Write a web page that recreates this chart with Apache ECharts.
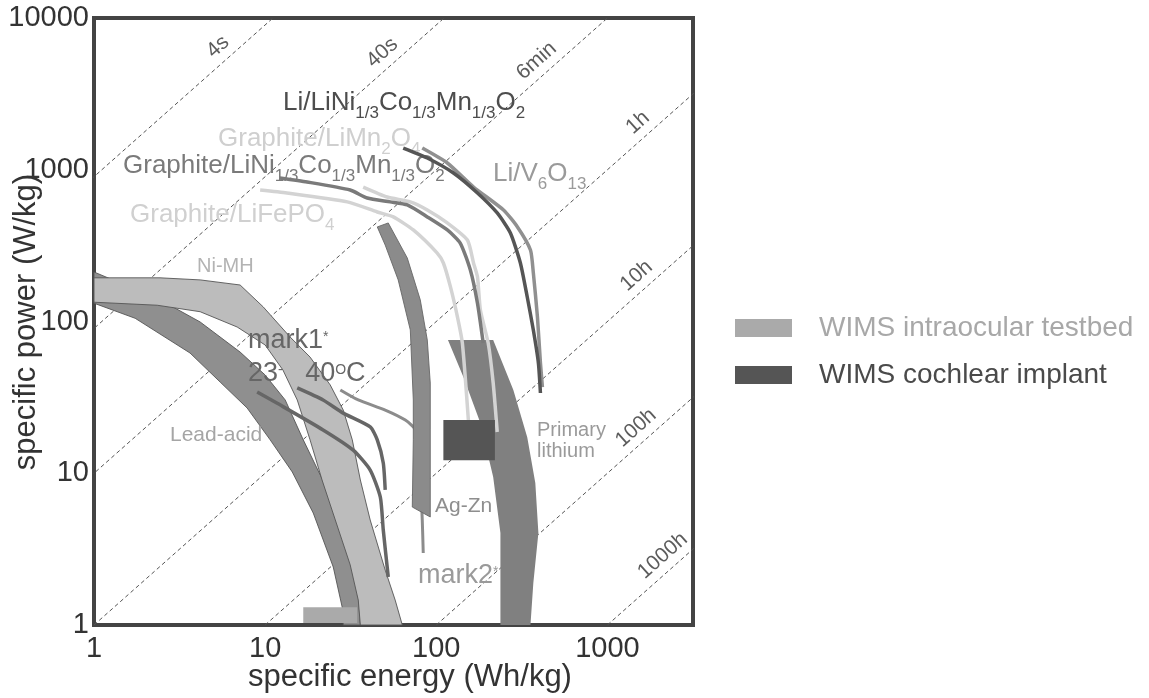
<!DOCTYPE html>
<html><head><meta charset="utf-8">
<script src="https://cdn.jsdelivr.net/npm/echarts@6/dist/echarts.min.js"></script>
<style>html,body{margin:0;padding:0;background:#fff}#c{width:1149px;height:698px}</style>
</head><body><div id="c"></div>
<script>
// ---------- data (specific energy Wh/kg, specific power W/kg) ----------
const xTicks = [1, 10, 100, 1000];
const yTicks = [1, 10, 100, 1000, 10000];
const timeHours = [4/3600, 40/3600, 0.1, 1, 10, 100, 1000];
const timeLabels = ['4s', '40s', '6min', '1h', '10h', '100h', '1000h'];
const timeLabelPower = [5446, 4977, 4406, 1721, 169, 16.8, 2.41];

const leadAcid = [[1,212],[2.43,139],[4.17,99.3],[7.14,62.9],[10.0,44.4],[13.1,30.4],[16.7,16.6],[22.4,8.37],[29.4,3.92],[34.5,1.98],[36.0,1],
  [28.6,1],[28.2,1.31],[25.0,2.41],[19.1,5.47],[14.4,10.2],[10.7,16.6],[7.85,26.9],[5.46,39.9],[3.64,62.0],[1.74,105],[1,132]];
const niMH = [[1,194],[2.43,194],[4.17,188],[7.14,174],[9.73,125],[14.0,79.0],[18.3,58.3],[24.0,38.2],[28.6,26.1],[32.3,16.6],[36.0,9.03],[41.1,4.92],[50.3,2.30],[57.5,1.46],[63.3,1],
  [36.0,1],[35.0,1.46],[31.4,2.49],[25.7,4.92],[21.5,9.03],[18.3,16.6],[15.4,30.4],[12.7,47.9],[10.0,70.0],[6.86,92.0],[4.17,116],[2.34,128],[1,134]];
const agZn = [[45.2,420],[52.4,446],[67.7,262],[80.6,139],[88.6,75.5],[92.2,39.3],[92.2,19.3],[92.2,5.15],[72.4,5.99],[73.4,16.6],[73.4,30.4],[70.5,87.9],[59.9,188],[50.3,319]];
const primaryLithium = [[117,75.5],[215,75.5],[282,35.4],[340,17.3],[379,8.62],[395,4.04],[369,1.89],[355,1],[237,1],[237,1.89],[237,4.04],[215,9.44],[181,21.4],[144,43.1]];
const intraocularBox = [[16.7,1.03],[34.5,1.31]];
const cochlearBox = [[110,12.2],[220,22.4]];

const mark1At23 = [[8.98,34.3],[11.7,29.0],[21.8,19.3],[32.7,14.2],[41.1,10.5],[47.1,6.97],[49.0,4.23],[52.4,2.07]];
const mark1At40 = [[15.4,36.5],[21.8,30.4],[28.6,24.9],[41.1,20.2],[45.2,16.6],[49.0,11.7],[50.3,7.76]];
const mark2 = [[27.5,35.4],[35.0,30.4],[50.3,26.1],[65.9,22.4],[75.4,19.3],[80.6,9.03],[82.8,4.92],[83.9,2.98]];
const graphiteNCM = [[12.2,882],[17.6,830],[31.4,735],[39.5,651],[53.8,614],[67.7,586],[88.6,489],[116,401],[138,329],[158,219],[174,132],[188,72.1]];
const graphiteLMO = [[37.4,769],[51.7,661],[70.5,614],[88.6,543],[116,446],[152,344],[165,243],[174,197],[181,119],[201,72.1],[215,39.3],[227,18.7]];
const graphiteLFP = [[9.35,735],[13.4,703],[30.2,614],[45.2,527],[56.1,489],[73.4,401],[101,283],[110,243],[121,169],[133,107],[142,72.1],[154,22.4]];
const lithiumNCM = [[64.1,1390],[88.6,1195],[126,952],[174,703],[227,519],[271,383],[310,243],[340,145],[369,87.9],[395,53.3],[406,33.8]];
const lithiumV6O13 = [[82.8,1390],[116,1108],[165,769],[247,543],[298,420],[355,296],[369,209],[390,107],[406,53.3],[417,37.0]];

// ---------- chart ----------
const F = '"Liberation Sans", Arial, Helvetica, sans-serif';
const chart = echarts.init(document.getElementById('c'), null, {renderer: 'canvas'});

function isDecade(v) { const l = Math.log10(v); return Math.abs(l - Math.round(l)) < 1e-6; }
function tickFmt(list) { return v => (isDecade(v) && list.indexOf(Math.round(v)) >= 0) ? String(Math.round(v)) : ''; }

function polygonSeries(name, pts, fill, stroke, z) {
  return {
    type: 'custom', name, z, silent: true, data: pts,
    itemStyle: {color: fill},
    renderItem: (params, api) => params.dataIndex !== 0 ? null : {
      type: 'polygon',
      shape: {points: pts.map(p => api.coord(p))},
      style: {fill, stroke: stroke || null, lineWidth: stroke ? 0.9 : 0}
    }
  };
}
function boxSeries(name, box, fill, z) {
  return {
    type: 'custom', name, z, silent: true, data: box,
    itemStyle: {color: fill},
    renderItem: (params, api) => {
      if (params.dataIndex !== 0) return null;
      const a = api.coord(box[0]), b = api.coord(box[1]);
      return {type: 'rect', shape: {x: Math.min(a[0], b[0]), y: Math.min(a[1], b[1]), width: Math.abs(b[0] - a[0]), height: Math.abs(b[1] - a[1])}, style: {fill}};
    }
  };
}
function curve(name, pts, color, width, z) {
  return {type: 'line', name, z, data: pts, showSymbol: false, symbol: 'none', smooth: 0.2, silent: true,
    lineStyle: {color, width, cap: 'butt'}};
}

const timeSeries = timeHours.map((t, i) => ({
  type: 'line', name: 'iso-' + timeLabels[i], z: 1, silent: true, showSymbol: false, symbol: 'none',
  data: [[t * 1, 1], [t * 10000, 10000]],
  lineStyle: {color: '#555', width: 1, type: [4, 3]}
}));

const timeLabelSeries = {
  type: 'scatter', name: 'timeLabels', z: 1, silent: true, symbolSize: 1,
  itemStyle: {color: 'rgba(0,0,0,0)'},
  data: timeHours.map((t, i) => ({value: [t * timeLabelPower[i], timeLabelPower[i]], label: {formatter: timeLabels[i]}})),
  label: {show: true, position: 'inside', rotate: 41.6, offset: [0, -15], fontSize: 21, color: '#333', fontFamily: F}
};

// text built from pieces: 'm' normal, 's' subscript, 'p' superscript
const measureCtx = document.createElement('canvas').getContext('2d');
function pieces(x, baseline, parts, color, fs, z) {
  const out = [];
  let cx = x;
  parts.forEach(p => {
    const kind = p[1] || 'm';
    const size = kind === 'm' ? fs : Math.round(fs * (kind === 's' ? 0.65 : 0.52));
    const dy = kind === 's' ? 0.28 * fs : (kind === 'p' ? -0.3 * fs : 0);
    measureCtx.font = size + 'px ' + F;
    const w = measureCtx.measureText(p[0]).width;
    out.push({type: 'text', x: cx, y: baseline + dy - 0.3465 * size, z, silent: true,
      style: {text: p[0], fill: color, fontSize: size, fontFamily: F, align: 'left', verticalAlign: 'middle'}});
    cx += w;
  });
  return out;
}
function txt(x, y, text, color, fs, z) {
  return {type: 'text', x, y, z, silent: true,
    style: {text, fill: color, fontSize: fs, fontFamily: F, align: 'left', verticalAlign: 'middle'}};
}

const NCM = [['Ni'], ['1/3', 's'], ['Co'], ['1/3', 's'], ['Mn'], ['1/3', 's'], ['O'], ['2', 's']];
const graphics = [].concat(
  pieces(283, 112, [['Li/Li']].concat(NCM), '#4d4d4d', 26, 4),
  pieces(218, 148, [['Graphite/LiMn'], ['2', 's'], ['O'], ['4', 's']], '#cfcfcf', 26, 4),
  pieces(123, 175, [['Graphite/Li']].concat(NCM), '#7a7a7a', 26, 4),
  pieces(130, 224, [['Graphite/LiFePO'], ['4', 's']], '#d0d0d0', 26, 4),
  pieces(493, 183, [['Li/V'], ['6', 's'], ['O'], ['13', 's']], '#9a9a9a', 26, 4),
  pieces(248, 350, [['mark1'], ['*', 'p']], '#666', 27, 4),
  pieces(248, 383, [['23'], ['-', 'p'], ['   40'], ['O', 'p'], ['C']], '#666', 27, 4),
  pieces(418, 585, [['mark2'], ['*', 'p']], '#9a9a9a', 27, 4),
  [
    txt(197, 266, 'Ni-MH', '#b3b3b3', 20, 4),
    txt(170, 435, 'Lead-acid', '#a5a5a5', 21, 4),
    txt(435, 506, 'Ag-Zn', '#8e8e8e', 21, 4),
    txt(537, 430, 'Primary', '#9a9a9a', 20, 4),
    txt(537, 451, 'lithium', '#9a9a9a', 20, 4),
    {type: 'text', x: 410, y: 677, z: 10, silent: true,
      style: {text: 'specific energy (Wh/kg)', fill: '#333', fontSize: 31, fontFamily: F, align: 'center', verticalAlign: 'middle'}},
    {type: 'text', x: 26, y: 322, rotation: Math.PI / 2, z: 10, silent: true,
      style: {text: 'specific power (W/kg)', fill: '#333', fontSize: 31, fontFamily: F, align: 'center', verticalAlign: 'middle'}}
  ]
);

const option = {
  animation: false,
  backgroundColor: '#fff',
  grid: {left: 94, top: 18, width: 599, height: 607, show: true, borderColor: '#444', borderWidth: 4, backgroundColor: '#fff', containLabel: false},
  xAxis: {type: 'log', logBase: 10, min: 1, max: 3162,
    axisLine: {show: false}, axisTick: {show: false}, splitLine: {show: false}, minorTick: {show: false},
    axisLabel: {formatter: tickFmt(xTicks), fontSize: 29, color: '#333', fontFamily: F, margin: 9, showMaxLabel: false}},
  yAxis: {type: 'log', logBase: 10, min: 1, max: 10000,
    axisLine: {show: false}, axisTick: {show: false}, splitLine: {show: false},
    axisLabel: {formatter: tickFmt(yTicks), fontSize: 29, color: '#333', fontFamily: F, margin: 5}},
  legend: {orient: 'vertical', left: 730, top: 309, itemWidth: 57, itemHeight: 18, itemGap: 19, icon: 'rect', selectedMode: false,
    textStyle: {fontSize: 28, lineHeight: 27, fontFamily: F, padding: [0, 0, 0, 22]},
    data: [{name: 'WIMS intraocular testbed', textStyle: {color: '#a8a8a8'}}, {name: 'WIMS cochlear implant', textStyle: {color: '#4a4a4a'}}]},
  graphic: graphics,
  series: [
    ...timeSeries,
    timeLabelSeries,
    polygonSeries('Lead-acid', leadAcid, '#8f8f8f', '#555', 2),
    polygonSeries('Ni-MH', niMH, '#bcbcbc', '#555', 3),
    curve('mark2', mark2, '#8c8c8c', 3, 3),
    polygonSeries('Ag-Zn', agZn, '#8b8b8b', '#666', 4),
    polygonSeries('Primary lithium', primaryLithium, '#808080', null, 4),
    curve('mark1 23C', mark1At23, '#666', 3.5, 5),
    curve('mark1 40C', mark1At40, '#666', 3.5, 5),
    curve('Graphite/LiFePO4', graphiteLFP, '#d3d3d3', 3.5, 5),
    curve('Graphite/LiMn2O4', graphiteLMO, '#d3d3d3', 3.5, 5),
    curve('Graphite/NCM', graphiteNCM, '#7a7a7a', 3.5, 5),
    curve('Li/V6O13', lithiumV6O13, '#909090', 3.5, 5),
    curve('Li/NCM', lithiumNCM, '#555', 3.5, 5),
    boxSeries('WIMS intraocular testbed', intraocularBox, '#aaaaaa', 6),
    boxSeries('WIMS cochlear implant', cochlearBox, '#555555', 6)
  ]
};
chart.setOption(option);
</script></body></html>
